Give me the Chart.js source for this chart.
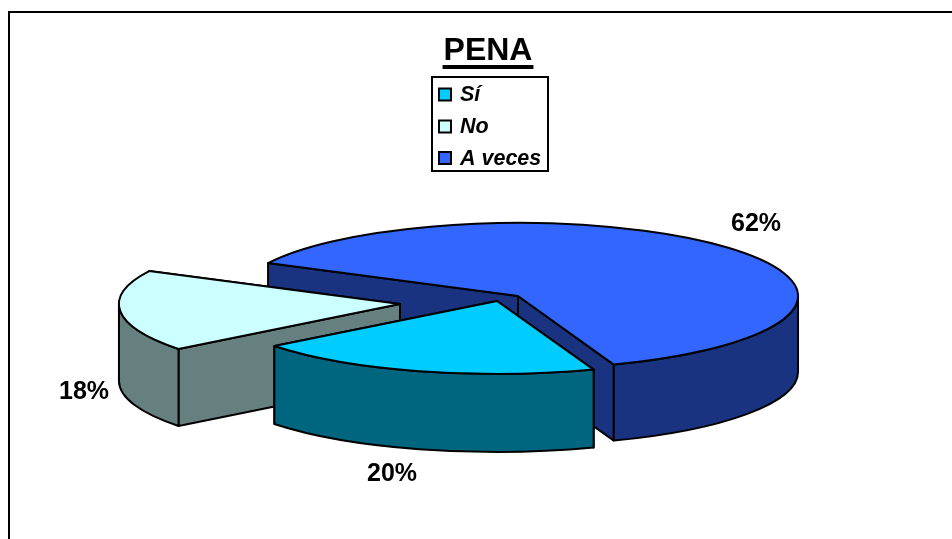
<!DOCTYPE html>
<html>
<head>
<meta charset="utf-8">
<style>html,body{margin:0;padding:0;background:#fff}canvas{display:block}</style>
<script src="https://cdn.jsdelivr.net/npm/chart.js@4"></script>
</head>
<body>
<canvas id="c" width="952" height="539"></canvas>
<script>
const titleText = "PENA";
const categories = ["Sí", "No", "A veces"];
const values = [20, 18, 62];
const percentLabels = ["20%", "18%", "62%"];
const topColors = ["#00CCFF", "#CCFFFF", "#3366FF"];
const sideColors = ["#006680", "#668080", "#1A3380"];
// view settings for the tilted, exploded pie
const sliceShiftX = [9, -88, 30];
const sliceShiftY = [6, 9, 1];
const sliceWiden = [3.87, 3.85, 3.836];
const sliceDepth = [78, 77, 76];
const labelX = [392, 84, 756];
const labelY = [474, 392, 224];
const FONT = '"Liberation Sans", Arial, sans-serif';

const tiltedPie = {
  id: "tiltedPie",
  beforeDraw(chart) {
    const c = chart.ctx;
    c.save();
    c.fillStyle = "#fff";
    c.fillRect(0, 0, chart.width, chart.height);
    c.strokeStyle = "#000";
    c.lineWidth = 2;
    c.beginPath();
    c.moveTo(chart.width, 12);
    c.lineTo(9, 12);
    c.lineTo(9, chart.height);
    c.stroke();
    c.restore();
  },
  beforeDatasetDraw(chart, args) {
    const c = chart.ctx;
    const arcs = chart.getDatasetMeta(args.index).data;
    [2, 1, 0].forEach(i => {
      const a = arcs[i];
      const R = a.outerRadius;
      const cx = a.x + sliceShiftX[i];
      const cy = a.y + sliceShiftY[i];
      const sx = sliceWiden[i];
      const depth = sliceDepth[i];
      const pt = t => [cx + R * sx * Math.cos(t), cy + R * Math.sin(t)];
      const stroke = () => {
        c.strokeStyle = "#000";
        c.lineWidth = 2;
        c.lineJoin = "round";
        c.stroke();
      };
      c.save();
      c.fillStyle = sideColors[i];
      // cut faces, rear one first
      [a.startAngle, a.endAngle].map(pt).sort((p, q) => p[1] - q[1]).forEach(p => {
        c.beginPath();
        c.moveTo(cx, cy);
        c.lineTo(p[0], p[1]);
        c.lineTo(p[0], p[1] + depth);
        c.lineTo(cx, cy + depth);
        c.closePath();
        c.fill();
        stroke();
      });
      // outer wall: the part of the rim that faces the viewer
      for (let k = -1; k <= 2; k++) {
        const lo = Math.max(a.startAngle, k * 2 * Math.PI);
        const hi = Math.min(a.endAngle, k * 2 * Math.PI + Math.PI);
        if (hi <= lo) continue;
        c.beginPath();
        c.ellipse(cx, cy, R * sx, R, 0, lo, hi);
        c.ellipse(cx, cy + depth, R * sx, R, 0, hi, lo, true);
        c.closePath();
        c.fill();
        stroke();
      }
      // top face, filled by the library's own arc element
      c.save();
      c.translate(cx, cy);
      c.scale(sx, 1);
      c.translate(-a.x, -a.y);
      a.draw(c);
      c.restore();
      c.beginPath();
      c.moveTo(cx, cy);
      c.ellipse(cx, cy, R * sx, R, 0, a.startAngle, a.endAngle);
      c.closePath();
      stroke();
      c.restore();
    });
    return false;
  },
  afterDraw(chart) {
    const c = chart.ctx;
    c.save();
    // title underline
    const tb = chart.titleBlock;
    c.font = "bold 32px " + FONT;
    const w = c.measureText(titleText).width;
    const mid = (tb.left + tb.right) / 2;
    c.fillStyle = "#000";
    c.fillRect(mid - w / 2 - 1, 65, w + 2, 4);
    // percentage labels
    c.font = "bold 25px " + FONT;
    c.textAlign = "center";
    c.textBaseline = "middle";
    percentLabels.forEach((t, i) => c.fillText(t, labelX[i], labelY[i]));
    // legend box
    c.strokeStyle = "#000";
    c.lineWidth = 2;
    c.fillStyle = "#fff";
    c.fillRect(432, 77, 116, 94);
    c.strokeRect(432, 77, 116, 94);
    const rowY = [94.5, 126.5, 158];
    c.font = "italic bold 21.5px " + FONT;
    c.textAlign = "left";
    categories.forEach((t, i) => {
      c.fillStyle = topColors[i];
      c.fillRect(439, rowY[i] - 6, 12, 12);
      c.strokeRect(439, rowY[i] - 6, 12, 12);
      c.fillStyle = "#000";
      c.fillText(t, 460, rowY[i] + 1);
    });
    c.restore();
  }
};

new Chart(document.getElementById("c"), {
  type: "pie",
  data: {
    labels: categories,
    datasets: [{
      data: values,
      backgroundColor: topColors,
      borderWidth: 0,
      rotation: 160
    }]
  },
  plugins: [tiltedPie],
  options: {
    responsive: false,
    animation: false,
    layout: { padding: { left: 24, top: 32, bottom: 171, right: 0 } },
    plugins: {
      legend: { display: false },
      tooltip: { enabled: false },
      title: {
        display: true,
        text: titleText,
        color: "#000",
        font: { family: FONT, size: 32, weight: "bold", lineHeight: 1.2 },
        padding: { top: 0, bottom: 151.6 }
      }
    }
  }
});
</script>
</body>
</html>
